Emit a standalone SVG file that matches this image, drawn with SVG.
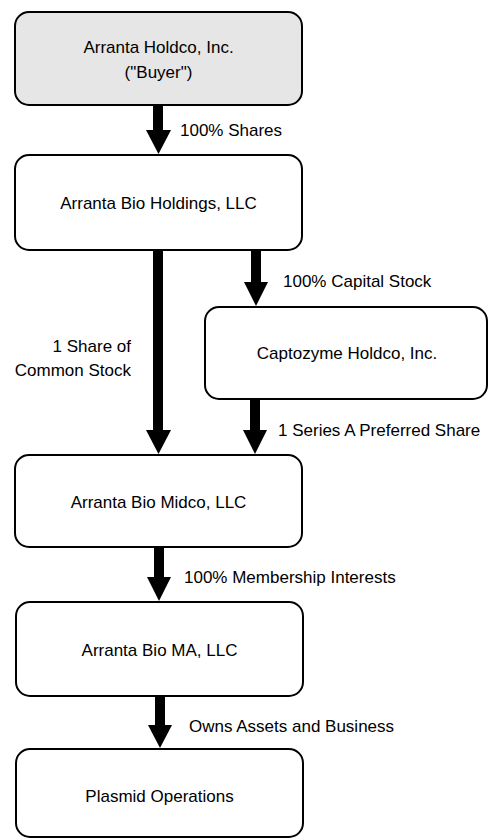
<svg xmlns="http://www.w3.org/2000/svg" width="489" height="838" viewBox="0 0 489 838">
<style>
.box{fill:#fff;stroke:#000;stroke-width:2}
.buyer{fill:#e6e6e6}
text{font-family:"Liberation Sans",Arial,sans-serif;font-size:17px;fill:#000}
.c{text-anchor:middle}
.e{text-anchor:end}
.shaft{stroke:#000;stroke-width:10;fill:none}
.head{fill:#000}
</style>
<rect width="489" height="838" fill="#fff"/>
<g id="connectors">
<line class="shaft" x1="158" y1="105" x2="158" y2="131"/><polygon class="head" points="146,130 171,130 158.5,154"/>
<line class="shaft" x1="158" y1="250" x2="158" y2="431"/><polygon class="head" points="146,430 171,430 158.5,454"/>
<line class="shaft" x1="256" y1="250" x2="256" y2="283"/><polygon class="head" points="244,282 268,282 256,306"/>
<line class="shaft" x1="255" y1="400" x2="255" y2="431"/><polygon class="head" points="243,430 267,430 255,454"/>
<line class="shaft" x1="159" y1="547" x2="159" y2="578"/><polygon class="head" points="147,577 171,577 159,601"/>
<line class="shaft" x1="160" y1="696" x2="160" y2="726"/><polygon class="head" points="148,725 172,725 160,748"/>
<text x="180" y="136">100% Shares</text>
<text x="283" y="287">100% Capital Stock</text>
<text x="131" y="352" class="e">1 Share of</text>
<text x="131" y="376" class="e">Common Stock</text>
<text x="278" y="436">1 Series A Preferred Share</text>
<text x="184" y="583">100% Membership Interests</text>
<text x="189" y="732">Owns Assets and Business</text>
</g>
<g id="buyer"><rect class="box buyer" x="15" y="12" width="287" height="93" rx="14"/><text class="c" x="158.5" y="53">Arranta Holdco, Inc.</text><text class="c" x="158.5" y="78">("Buyer")</text></g>
<g id="holdings"><rect class="box" x="15" y="155" width="287" height="95" rx="14"/><text class="c" x="158.5" y="209">Arranta Bio Holdings, LLC</text></g>
<g id="captozyme"><rect class="box" x="205" y="307" width="282" height="92" rx="14"/><text class="c" x="347" y="359">Captozyme Holdco, Inc.</text></g>
<g id="midco"><rect class="box" x="15" y="455" width="287" height="92" rx="14"/><text class="c" x="158.5" y="508">Arranta Bio Midco, LLC</text></g>
<g id="ma"><rect class="box" x="16" y="602" width="287" height="94" rx="14"/><text class="c" x="159.5" y="656">Arranta Bio MA, LLC</text></g>
<g id="plasmid"><rect class="box" x="16" y="749" width="287" height="88" rx="14"/><text class="c" x="159.5" y="802">Plasmid Operations</text></g>
</svg>
